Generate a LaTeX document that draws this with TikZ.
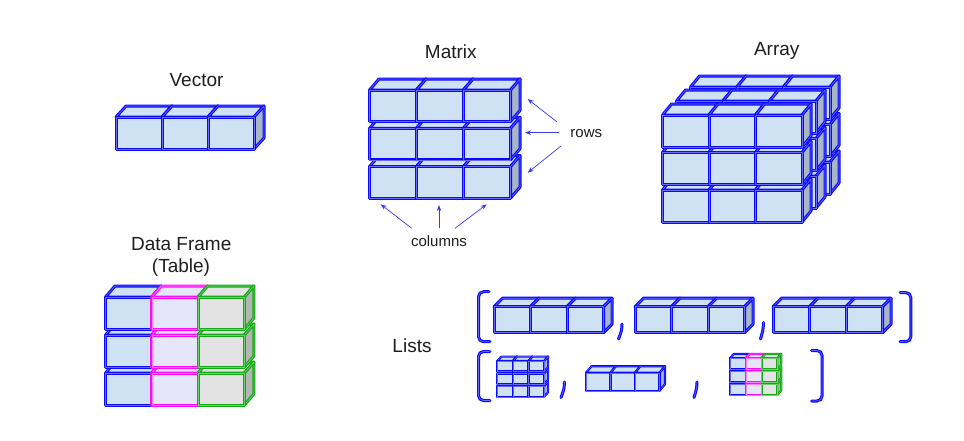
\documentclass[tikz,border=0pt]{standalone}
\usepackage{fontspec}
\setmainfont{Liberation Sans}
\usetikzlibrary{arrows.meta}
\definecolor{qblue}{HTML}{0A0AFF}
\definecolor{qblueL}{HTML}{6A6AFF}
\definecolor{qfillB}{HTML}{CFE2F3}
\definecolor{qsideB}{HTML}{A7B7C5}
\definecolor{qmag}{HTML}{FF0AFF}
\definecolor{qmagL}{HTML}{FF80FF}
\definecolor{qfillM}{HTML}{E6E6FA}
\definecolor{qgreen}{HTML}{16A816}
\definecolor{qgreenL}{HTML}{70D070}
\definecolor{qfillG}{HTML}{E3E3E3}
\definecolor{qsideG}{HTML}{B5B5B5}
\definecolor{qtext}{HTML}{1E1E1E}
\definecolor{qarrow}{HTML}{3A3AF0}
\tikzset{
 qedge/.style={line width=1.2pt, double distance=0.6pt, line join=round},
 qthin/.style={line width=0.9pt, double distance=0.35pt, line join=round},
 qfB/.style={draw=qblue, double=qblueL, fill=qfillB},
 qsB/.style={draw=qblue, double=qblueL, fill=qsideB},
 qfM/.style={draw=qmag, double=qmagL, fill=qfillM},
 qsM/.style={draw=qmag, double=qmagL, fill=qsideB},
 qfG/.style={draw=qgreen, double=qgreenL, fill=qfillG},
 qsG/.style={draw=qgreen, double=qgreenL, fill=qsideG},
 title/.style={font=\fontsize{19}{22}\selectfont, text=qtext, anchor=base, inner sep=0pt},
 lab/.style={font=\fontsize{15}{18}\selectfont, text=qtext, anchor=base, inner sep=0pt},
 arr/.style={draw=qarrow, line width=0.7pt, -{Stealth[length=6pt,width=4.5pt]}},
 brk/.style={draw=qblue, double=qblueL, line width=1.2pt, double distance=0.6pt, rounded corners=5pt, line cap=round},
}
% x y w h dx dy kind extra-style
\newcommand\qcube[8]{%
 \path[qf#7,#8] (#1,#2) -- ++(#5,-#6) -- ++(#3,0) -- ++(-#5,#6) -- cycle;
 \path[qs#7,#8] (#1+#3,#2) -- ++(#5,-#6) -- ++(0,#4) -- ++(-#5,#6) -- cycle;
 \path[qf#7,#8] (#1,#2) rectangle ++(#3,#4);
}
\begin{document}
\begin{tikzpicture}[x=1pt,y=-1pt]
\path[use as bounding box, fill=white] (0,0) rectangle (964,440);

% ---------- Vector
\node[title] (tvec) at (196.5,86.7) {Vector};
\foreach \i in {0,1,2} {\qcube{116+46*\i}{117}{46}{32}{10}{11}{B}{qedge}}

% ---------- Matrix
\node[title] (tmat) at (450.8,58.3) {Matrix};
\foreach \r in {2,1,0} {\foreach \c in {0,1,2} {\qcube{369.5+47*\c}{90+38.3*\r}{47}{31.5}{9.5}{11}{B}{qedge}}}
\node[lab] (rows) at (586.3,137.3) {rows};
\node[lab] (cols) at (439,246) {columns};
\coordinate (r1s) at (556.7,121.7); \coordinate (r1e) at (527.7,99);
\coordinate (r2s) at (559.3,132.7); \coordinate (r2e) at (525,132.7);
\coordinate (r3s) at (561,146);     \coordinate (r3e) at (527.7,172.7);
\coordinate (c1s) at (411.7,228.3); \coordinate (c1e) at (380.7,204.3);
\coordinate (c2s) at (439,228.3);   \coordinate (c2e) at (439,205);
\coordinate (c3s) at (455,228.3);   \coordinate (c3e) at (486.7,204.3);
\draw[arr] (r1s) -- (r1e);
\draw[arr] (r2s) -- (r2e);
\draw[arr] (r3s) -- (r3e);
\draw[arr] (c1s) -- (c1e);
\draw[arr] (c2s) -- (c2e);
\draw[arr] (c3s) -- (c3e);

% ---------- Array
\node[title] (tarr) at (776.7,55) {Array};
\foreach \l in {2,1,0} {\foreach \r in {2,1,0} {\foreach \c in {0,1,2} {\qcube{662.5+14*\l+46.5*\c}{115-14*\l+37.5*\r}{46.5}{32}{9}{11}{B}{qedge}}}}

% ---------- Data frame
\node[title] (tdf1) at (181.2,250.7) {Data Frame};
\node[title] (tdf2) at (181,272.7) {(Table)};
\foreach \r in {2,1,0} {
 \qcube{105.5}{297+38*\r}{46.3}{32}{9.5}{11}{B}{qedge}
 \qcube{151.8}{297+38*\r}{46.3}{32}{9.5}{11}{M}{qedge}
 \qcube{198.1}{297+38*\r}{46.3}{32}{9.5}{11}{G}{qedge}
}

% ---------- Lists
\node[title] (tlist) at (412,352.5) {Lists};
\draw[brk] (489,291.7) -- (478.5,291.7) -- (478.5,341.7) -- (490,341.7);
\draw[brk] (900,292.5) -- (910.8,292.5) -- (910.8,341.7) -- (900,341.7);
\draw[brk] (490,351.5) -- (478.5,351.5) -- (478.5,400.5) -- (490,400.5);
\draw[brk] (811.7,350.5) -- (822,350.5) -- (822,401) -- (811.7,401);
\foreach \v in {494,635,773} {\foreach \i in {0,1,2} {\qcube{\v+36.5*\i}{306.7}{36.5}{26}{8.5}{8.5}{B}{qedge}}}
\draw[brk] (622,324) .. controls (621.6,331) .. (618.5,339);
\draw[brk] (763.5,322.5) .. controls (763.1,330) .. (760.5,339);
% mini matrix
\foreach \r in {2,1,0} {\foreach \c in {0,1,2} {\qcube{497.3+15.6*\c}{361+12.6*\r}{15.6}{10.5}{4}{4.4}{B}{qthin}}}
\draw[brk] (564.5,382) .. controls (564.1,389) .. (561,397.5);
% mini vector
\foreach \i in {0,1,2} {\qcube{586+24.5*\i}{372.7}{24.5}{18}{5.5}{6.5}{B}{qthin}}
\draw[brk] (697,382) .. controls (696.6,389) .. (694,397.5);
% mini data frame
\foreach \r in {2,1,0} {
 \qcube{730}{358.3+12.8*\r}{15.8}{11}{3.8}{4.3}{B}{qthin}
 \qcube{745.8}{358.3+12.8*\r}{15.8}{11}{3.8}{4.3}{M}{qthin}
 \qcube{761.6}{358.3+12.8*\r}{15.8}{11}{3.8}{4.3}{G}{qthin}
}
\end{tikzpicture}
\end{document}
